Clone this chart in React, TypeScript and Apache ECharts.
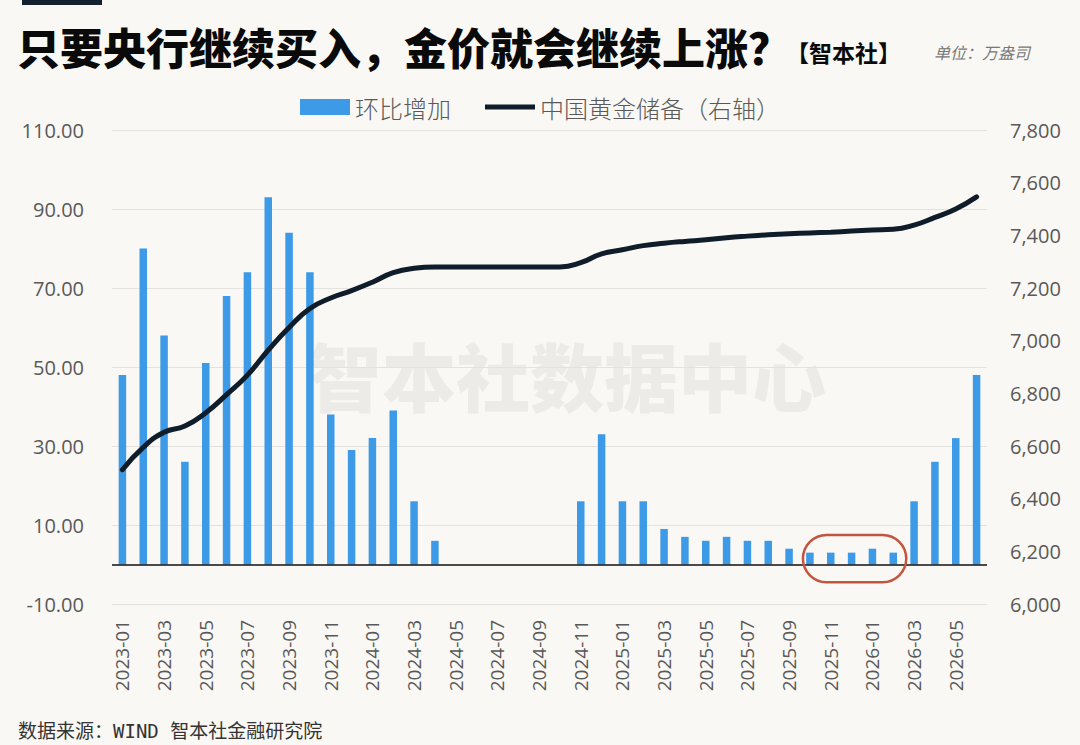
import * as echarts from 'echarts'
import { useEffect, useRef } from 'react'

// months, 2023-01 .. 2026-06
const months = [
	'2023-01', '2023-02', '2023-03', '2023-04', '2023-05', '2023-06',
	'2023-07', '2023-08', '2023-09', '2023-10', '2023-11', '2023-12',
	'2024-01', '2024-02', '2024-03', '2024-04', '2024-05', '2024-06',
	'2024-07', '2024-08', '2024-09', '2024-10', '2024-11', '2024-12',
	'2025-01', '2025-02', '2025-03', '2025-04', '2025-05', '2025-06',
	'2025-07', '2025-08', '2025-09', '2025-10', '2025-11', '2025-12',
	'2026-01', '2026-02', '2026-03', '2026-04', '2026-05', '2026-06',
]

// 环比增加 (万盎司)
const monthlyAdds = [
	48, 80, 58, 26, 51, 68, 74, 93, 84, 74, 38, 29,
	32, 39, 16, 6, 0, 0, 0, 0, 0, 0, 16, 33,
	16, 16, 9, 7, 6, 7, 6, 6, 4, 3, 3, 3,
	4, 3, 16, 26, 32, 48,
]

// 中国黄金储备 (万盎司, right axis)
const reserves = [
	6510, 6595, 6652, 6676, 6726, 6795, 6869, 6964, 7050, 7122, 7162, 7190,
	7222, 7258, 7275, 7280, 7280, 7280, 7280, 7280, 7280, 7280, 7296, 7330,
	7345, 7361, 7370, 7377, 7383, 7391, 7397, 7402, 7406, 7409, 7412, 7416,
	7420, 7423, 7439, 7468, 7500, 7546,
]

// highlighted months (red outline)
const highlightFrom = '2025-10'
const highlightTo = '2026-02'

const leftTicks = { min: -10, max: 110, interval: 20 }
const rightTicks = { min: 6000, max: 7800, interval: 200 }

const GoldReserveChart = () => {
	const chartRef = useRef(null)

	useEffect(() => {
		const myChart = echarts.init(chartRef.current, null, { renderer: 'svg' })
		const gray = '#595959'
		const font = "'Open Sans', 'Noto Sans CJK SC', sans-serif"

		const option = {
			animation: false,
			backgroundColor: '#f9f8f4',
			textStyle: { fontFamily: font },
			legend: {
				top: 90,
				left: 'center',
				itemWidth: 50,
				itemHeight: 16,
				itemGap: 34,
				symbolKeepAspect: true,
				textStyle: {
					color: gray,
					fontSize: 24,
					fontWeight: 300,
					fontFamily: "'Noto Sans CJK SC', sans-serif",
				},
				data: [
					{ name: '环比增加', icon: 'rect' },
					{ name: '中国黄金储备（右轴）', icon: 'path://M0,0 L50,0 L50,5 L0,5 Z' },
				],
			},
			grid: { left: 112, right: 93, top: 130, bottom: 141 },
			xAxis: {
				type: 'category',
				data: months,
				axisLine: { show: false, onZero: false },
				axisTick: { show: false },
				axisLabel: {
					rotate: 90,
					interval: 1,
					color: gray,
					fontSize: 19,
					margin: 16,
				},
			},
			yAxis: [
				{
					type: 'value',
					...leftTicks,
					axisLine: { show: false },
					axisTick: { show: false },
					splitLine: { lineStyle: { color: '#e3e2de', width: 1 } },
					axisLabel: {
						color: gray,
						fontSize: 20,
						margin: 28,
						formatter: (v: number) => v.toFixed(2),
					},
				},
				{
					type: 'value',
					...rightTicks,
					axisLine: { show: false },
					axisTick: { show: false },
					splitLine: { show: false },
					axisLabel: {
						color: gray,
						fontSize: 20,
						margin: 23,
						formatter: (v: number) => v.toLocaleString('en-US'),
					},
				},
			],
			series: [
				{
					name: '环比增加',
					type: 'bar',
					data: monthlyAdds,
					barWidth: '36%',
					itemStyle: { color: '#3d9ae6' },
					markLine: {
						silent: true,
						symbol: 'none',
						label: { show: false },
						lineStyle: { color: '#111', width: 1.6, type: 'solid' },
						data: [{ yAxis: 0 }],
					},
				},
				{
					name: '中国黄金储备（右轴）',
					type: 'line',
					yAxisIndex: 1,
					data: reserves,
					smooth: 0.5,
					symbol: 'none',
					lineStyle: { color: '#0f1c2a', width: 5, cap: 'round' },
					itemStyle: { color: '#0f1c2a' },
					z: 3,
				},
			],
			graphic: [
				{ id: 'topbar', type: 'rect', left: 22, top: 0, shape: { width: 80, height: 5 }, style: { fill: '#13202e' } },
				{
					id: 'title',
					type: 'text',
					left: 17,
					top: 24,
					style: {
						text: '只要央行继续买入，金价就会继续上涨？',
						font: "900 43px 'Noto Sans CJK SC', sans-serif",
						fill: '#0a0a0a',
					},
				},
				{
					id: 'brand',
					type: 'text',
					left: 786,
					top: 40,
					style: {
						text: '【智本社】',
						font: "bold 23px 'Noto Sans CJK SC', sans-serif",
						fill: '#0a0a0a',
					},
				},
				{
					id: 'unit',
					type: 'text',
					left: 934,
					top: 44,
					style: {
						text: '单位：万盎司',
						font: "italic 16px 'Noto Sans CJK SC', sans-serif",
						fill: '#777',
					},
				},
				{
					id: 'watermark',
					type: 'text',
					x: 567,
					y: 373,
					z: -10,
					style: {
						text: '智本社数据中心',
						font: "900 74px 'Noto Sans CJK SC', sans-serif",
						fill: '#ecebe7',
						align: 'center',
						verticalAlign: 'middle',
					},
				},
				{
					id: 'source',
					type: 'text',
					left: 18,
					top: 721,
					style: {
						text: '数据来源：WIND 智本社金融研究院',
						font: "19px 'DejaVu Sans Mono', 'Noto Sans CJK SC', monospace",
						fill: '#333',
					},
				},
			],
		}

		myChart.setOption(option)

		// red rounded outline around the highlighted months
		const [x0, y0] = myChart.convertToPixel({ xAxisIndex: 0, yAxisIndex: 0 }, [highlightFrom, 7.5])
		const [x1, y1] = myChart.convertToPixel({ xAxisIndex: 0, yAxisIndex: 0 }, [highlightTo, -4.5])
		const left = x0 - 7
		const right = x1 + 13
		myChart.setOption({
			graphic: [
				{
					id: 'highlight',
					type: 'rect',
					z: 10,
					shape: { x: left, y: y0, width: right - left, height: y1 - y0, r: (y1 - y0) / 2 },
					style: { fill: 'none', stroke: '#c2553f', lineWidth: 2.5 },
				},
			],
		})

		return () => {
			myChart.dispose()
		}
	}, [])

	return (
		<div
			ref={chartRef}
			style={{ position: 'absolute', left: 0, top: 0, width: '1080px', height: '745px' }}
		/>
	)
}

export default GoldReserveChart
